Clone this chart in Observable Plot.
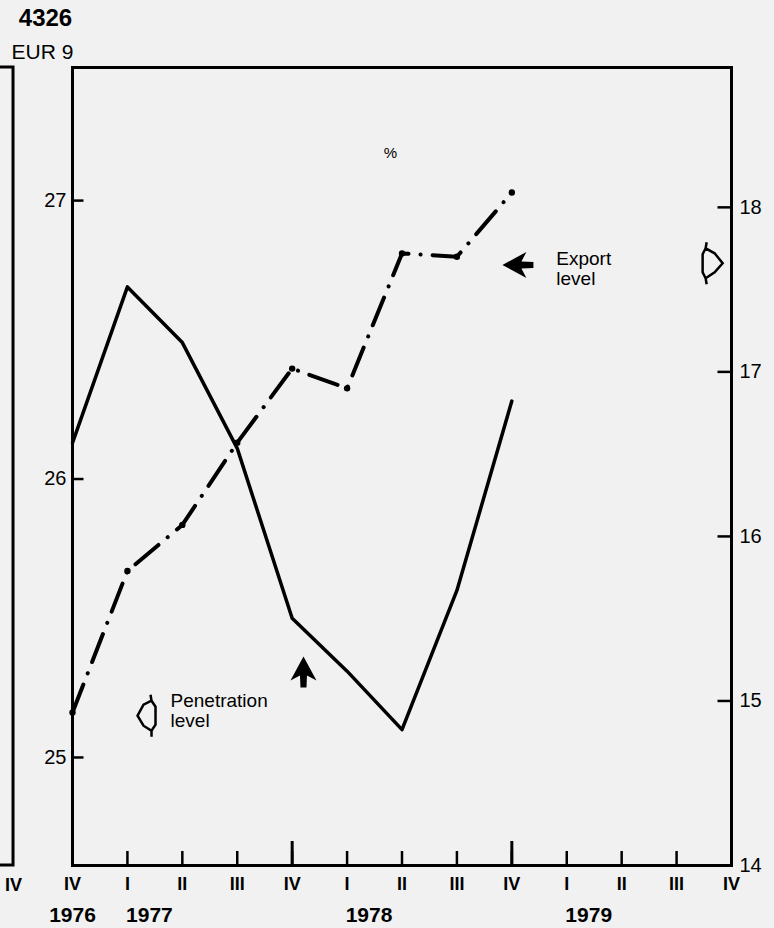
<!DOCTYPE html>
<html><head><meta charset="utf-8">
<script src="https://cdn.jsdelivr.net/npm/d3@7"></script>
<script src="https://cdn.jsdelivr.net/npm/@observablehq/plot@0.6"></script>
<style>
html,body{margin:0;padding:0;background:#f1f1f1;}
#chart svg{display:block;}
</style></head><body><div id="chart"></div>
<script>
// ---- data ----
const quarterLabels = ["IV","I","II","III","IV","I","II","III","IV","I","II","III","IV"];
const yearLabels = ["1976","1977","1978","1979"];
const yearAt = [0, 1.4, 5.4, 9.4];               // quarter index under which each year label sits
const penetration = [26.13, 26.69, 26.49, 26.11, 25.50, 25.31, 25.10, 25.60, 26.28]; // left axis
const exportLevel = [14.93, 15.79, 16.07, 16.57, 17.02, 16.90, 17.72, 17.70, 18.09]; // right axis
const leftTicks = [25, 26, 27];
const rightTicks = [14, 15, 16, 17, 18];
const leftDomain = [24.612, 27.478];
const rightDomain = [14, 18.85];
const yearTicks = [4, 8];   // quarter IV year-end ticks (longer)

// right-axis values expressed on the left scale
const toLeft = d3.scaleLinear().domain(rightDomain).range(leftDomain);

// ---- symbols ----
const arrowLeft = {draw(c){
  c.moveTo(-16,0); c.lineTo(8,-13); c.lineTo(3,-3.5); c.lineTo(15,-3);
  c.lineTo(15,3); c.lineTo(3,3.5); c.lineTo(8,13); c.closePath();
}};
const arrowUp = {draw(c){
  c.moveTo(0,-16); c.lineTo(13,8); c.lineTo(3.5,3); c.lineTo(3,15);
  c.lineTo(-3,15); c.lineTo(-3.5,3); c.lineTo(-13,8); c.closePath();
}};
const pointerLeft = {draw(c){
  c.moveTo(4,-15); c.lineTo(8,-9); c.lineTo(8,9); c.lineTo(4,15);
  c.lineTo(-4,10); c.lineTo(-10,0); c.lineTo(-4,-11); c.closePath();
  c.moveTo(4,-15); c.lineTo(3,-21);
  c.moveTo(4,15); c.lineTo(4,21);
}};
const pointerRight = {draw(c){
  c.moveTo(-5,-15); c.lineTo(-8,-9); c.lineTo(-8,9); c.lineTo(-5,15);
  c.lineTo(4,9); c.lineTo(12,0); c.lineTo(4,-10); c.closePath();
  c.moveTo(-5,-15); c.lineTo(-4,-21);
  c.moveTo(-5,15); c.lineTo(-4,21);
}};

const remnantX = -1.074; // edge of the neighbouring panel on the page
const fontFamily = "'Liberation Sans', Arial, Helvetica, sans-serif";

const chart = Plot.plot({
  width: 774, height: 928,
  marginLeft: 72, marginRight: 43, marginTop: 67, marginBottom: 63,
  style: {fontFamily, background: "#f1f1f1", color: "black", overflow: "visible"},
  x: {type: "linear", domain: [0, 12], axis: null},
  y: {type: "linear", domain: leftDomain, axis: null},
  marks: [
    // neighbouring panel edge
    Plot.rect([0], {x1: () => -3, x2: () => remnantX, y1: () => leftDomain[0], y2: () => leftDomain[1], fill: "none", stroke: "black", strokeWidth: 3}),
    Plot.text([remnantX], {x: d => d, text: () => "IV", frameAnchor: "bottom", lineAnchor: "middle", textAnchor: "middle", dy: 20, fontSize: 18, fontWeight: "bold"}),
    Plot.frame({stroke: "black", strokeWidth: 3}),
    // left axis (ticks point inward)
    Plot.link(leftTicks, {x1: () => 0, x2: () => 0.2, y1: d => d, y2: d => d, stroke: "black", strokeWidth: 2.5}),
    Plot.axisY(leftTicks, {anchor: "left", tickSize: 0, tickPadding: 6, fontSize: 20, tickFormat: d => String(d)}),
    // right axis
    Plot.link(rightTicks, {x1: () => 12 - 0.255, x2: () => 12, y1: d => toLeft(d), y2: d => toLeft(d), stroke: "black", strokeWidth: 2.5}),
    Plot.axisY(rightTicks.map(toLeft), {anchor: "right", tickSize: 0, tickPadding: 8, fontSize: 20,
      tickFormat: d => String(Math.round(toLeft.invert(d)))}),
    // bottom axis
    Plot.axisX(d3.range(quarterLabels.length), {anchor: "bottom", tickSize: -14, tickPadding: 26, fontSize: 18, fontWeight: "bold", strokeWidth: 2.5,
      tickFormat: i => quarterLabels[i]}),
    Plot.axisX(yearTicks, {anchor: "bottom", tickSize: -24, strokeWidth: 3, tickFormat: () => ""}),
    Plot.text(yearAt, {x: d => d, text: (d, i) => yearLabels[i], frameAnchor: "bottom", lineAnchor: "middle", textAnchor: "middle", dy: 50, fontSize: 21, fontWeight: "bold"}),
    // titles
    Plot.text(["4326"], {text: d => d, frameAnchor: "top-left", textAnchor: "middle", lineAnchor: "middle", dx: -27, dy: -49, fontSize: 24, fontWeight: "bold"}),
    Plot.text(["EUR 9"], {text: d => d, frameAnchor: "top-left", textAnchor: "middle", lineAnchor: "middle", dx: -30, dy: -15, fontSize: 21}),
    Plot.text(["%"], {x: () => 5.79, y: () => 27.169, text: d => d, fontSize: 15}),
    // series
    Plot.line(penetration, {x: (d, i) => i, y: d => d, stroke: "black", strokeWidth: 3.5, strokeLinejoin: "round"}),
    Plot.line(exportLevel, {x: (d, i) => i, y: d => toLeft(d), stroke: "black", strokeWidth: 4,
      strokeDasharray: "30,12,0.1,12", strokeLinecap: "round", strokeLinejoin: "round"}),
    Plot.dot(exportLevel, {x: (d, i) => i, y: d => toLeft(d), r: 3.2, fill: "black", stroke: "none"}),
    // annotations
    Plot.dot([17.65], {x: () => 8.12, y: d => toLeft(d), symbol: arrowLeft, fill: "black", stroke: "none"}),
    Plot.text(["Export\nlevel"], {x: () => 8.81, y: () => toLeft(17.63), text: d => d, textAnchor: "start", fontSize: 19, lineHeight: 1.05}),
    Plot.dot([17.66], {x: () => 11.62, y: d => toLeft(d), symbol: pointerRight, fill: "none", stroke: "black", strokeWidth: 2.5}),
    Plot.dot([25.15], {x: () => 1.366, y: d => d, symbol: pointerLeft, fill: "none", stroke: "black", strokeWidth: 2.5}),
    Plot.text(["Penetration\nlevel"], {x: () => 1.785, y: () => 25.169, text: d => d, textAnchor: "start", fontSize: 19, lineHeight: 1.05}),
    Plot.dot([25.305], {x: () => 4.206, y: d => d, symbol: arrowUp, fill: "black", stroke: "none"})
  ]
});
document.getElementById("chart").appendChild(chart);
</script>
</body></html>
